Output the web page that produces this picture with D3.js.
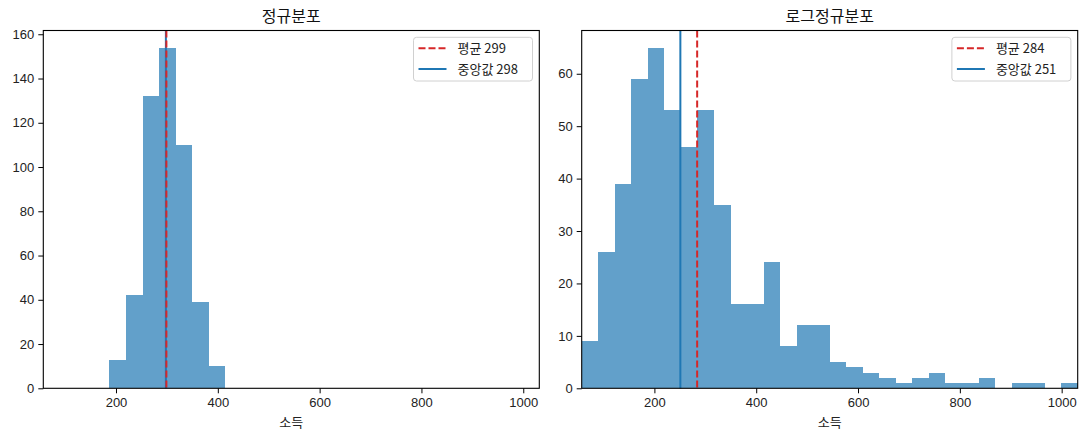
<!DOCTYPE html>
<html>
<head>
<meta charset="utf-8">
<script src="https://cdn.jsdelivr.net/npm/d3@7"></script>
<style>
  body { margin: 0; background: #fff; }
  svg { font-family: "Noto Sans CJK KR", "Noto Sans", sans-serif; }
  .tick text { font-size: 13px; fill: #222; }
</style>
</head>
<body>
<div id="chart"></div>
<script>
// shared histogram bins (same edges for both panels)
const binRange = [57.2, 1031.5];
const binCount = 30;

// counts per bin
const normalCounts = [0, 0, 0, 0, 13, 42, 132, 154, 110, 39, 10,
  0, 0, 0, 0, 0, 0, 0, 0, 0, 0, 0, 0, 0, 0, 0, 0, 0, 0, 0];
const lognormCounts = [9, 26, 39, 59, 65, 53, 46, 53, 35, 16, 16, 24, 8, 12, 12,
  5, 4, 3, 2, 1, 2, 3, 1, 1, 2, 0, 1, 1, 0, 1];

const panelTitles = ['정규분포', '로그정규분포'];
const means = [299, 284];
const medians = [298, 251];
const xTicks = [200, 400, 600, 800, 1000];
const yTicksNormal = [0, 20, 40, 60, 80, 100, 120, 140, 160];
const yTicksLognorm = [0, 10, 20, 30, 40, 50, 60];
const xLabel = '소득';

const W = 1087, H = 439;
const svg = d3.select('#chart').append('svg').attr('width', W).attr('height', H);

const panels = [
  { left: 43.3, right: 539.3, counts: normalCounts, yTicks: yTicksNormal },
  { left: 581.7, right: 1077.7, counts: lognormCounts, yTicks: yTicksLognorm }
];
const plotTop = 30.5, plotBottom = 388.3;

const binWidth = (binRange[1] - binRange[0]) / binCount;

panels.forEach((p, i) => {
  const x = d3.scaleLinear().domain(binRange).range([p.left, p.right]);
  const y = d3.scaleLinear().domain([0, d3.max(p.counts) * 1.05]).range([plotBottom, plotTop]);
  const g = svg.append('g');

  const bins = p.counts
    .map((c, k) => ({ c, x0: binRange[0] + k * binWidth, x1: binRange[0] + (k + 1) * binWidth }))
    .filter(d => d.c > 0);

  // bars
  g.selectAll('rect.bar')
    .data(bins)
    .enter().append('rect')
    .attr('class', 'bar')
    .attr('x', d => x(d.x0))
    .attr('width', d => x(d.x1) - x(d.x0))
    .attr('y', d => y(d.c))
    .attr('height', d => y(0) - y(d.c))
    .attr('fill', '#1f77b4')
    .attr('fill-opacity', 0.7)
    .attr('shape-rendering', 'crispEdges');

  // mean / median lines
  g.append('line')
    .attr('x1', x(medians[i])).attr('x2', x(medians[i]))
    .attr('y1', plotTop).attr('y2', plotBottom)
    .attr('stroke', '#1f77b4').attr('stroke-width', 2);
  g.append('line')
    .attr('x1', x(means[i])).attr('x2', x(means[i]))
    .attr('y1', plotTop).attr('y2', plotBottom)
    .attr('stroke', '#d62728').attr('stroke-width', 2)
    .attr('stroke-dasharray', '7,3');

  // axes
  g.append('g')
    .attr('transform', `translate(0,${plotBottom})`)
    .call(d3.axisBottom(x).tickValues(xTicks).tickFormat(d3.format('d'))
      .tickSize(5).tickPadding(4).tickSizeOuter(0))
    .call(a => a.select('.domain').remove());
  g.append('g')
    .attr('transform', `translate(${p.left},0)`)
    .call(d3.axisLeft(y).tickValues(p.yTicks).tickFormat(d3.format('d'))
      .tickSize(5).tickPadding(4).tickSizeOuter(0))
    .call(a => a.select('.domain').remove());

  // frame
  g.append('rect')
    .attr('x', p.left).attr('y', plotTop)
    .attr('width', p.right - p.left).attr('height', plotBottom - plotTop)
    .attr('fill', 'none').attr('stroke', '#000').attr('stroke-width', 1.1);

  // title and x label
  const cx = (p.left + p.right) / 2;
  g.append('text').attr('x', cx).attr('y', 22)
    .attr('text-anchor', 'middle').attr('font-size', 16).attr('fill', '#111')
    .text(panelTitles[i]);
  g.append('text').attr('x', cx).attr('y', 427)
    .attr('text-anchor', 'middle').attr('font-size', 13).attr('fill', '#222')
    .text(xLabel);

  // legend
  const lw = 119, lh = 43.7;
  const lx = p.right - 6.8 - lw, ly = 37.3;
  const leg = g.append('g').attr('transform', `translate(${lx},${ly})`);
  leg.append('rect').attr('width', lw).attr('height', lh).attr('rx', 3)
    .attr('fill', '#fff').attr('fill-opacity', 0.8)
    .attr('stroke', '#d0d0d0').attr('stroke-width', 1);
  const items = [
    { label: `평균 ${means[i]}`, color: '#d62728', dash: '7,3' },
    { label: `중앙값 ${medians[i]}`, color: '#1f77b4', dash: null }
  ];
  items.forEach((it, k) => {
    const yy = 11 + k * 20.7;
    leg.append('line').attr('x1', 5).attr('x2', 33).attr('y1', yy).attr('y2', yy)
      .attr('stroke', it.color).attr('stroke-width', 2)
      .attr('stroke-dasharray', it.dash);
    leg.append('text').attr('x', 44).attr('y', yy).attr('dy', '0.35em')
      .attr('font-size', 13).attr('fill', '#222').text(it.label);
  });
});
</script>
</body>
</html>
